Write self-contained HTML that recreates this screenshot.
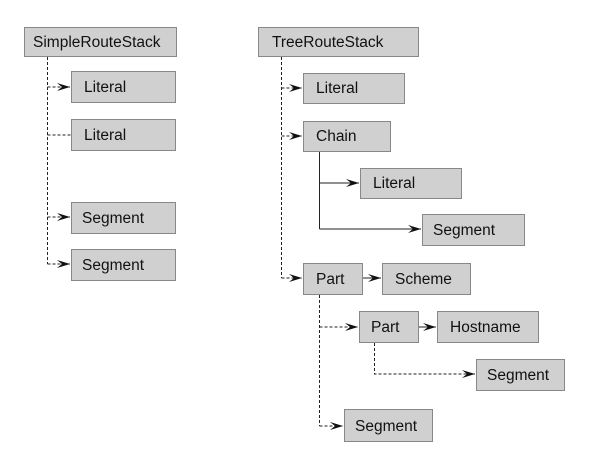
<!DOCTYPE html>
<html><head><style>
body{margin:0;background:#fff;}
svg text{font-family:"Liberation Sans",Arial,sans-serif;font-size:15.5px;fill:#111;}
</style></head><body>
<svg width="598" height="461" xmlns="http://www.w3.org/2000/svg">
<defs>
<marker id="a" markerWidth="14" markerHeight="10" refX="13" refY="5" orient="auto" markerUnits="userSpaceOnUse">
<path d="M0,1 L13,5 L0,9 L5,5 Z" fill="#111"/></marker>
</defs>
<g fill="#d0d0d0" stroke="#888" stroke-width="1">
<rect x="24.5" y="27.5" width="152" height="29"/>
<rect x="71.5" y="71.5" width="104" height="31"/>
<rect x="71.5" y="119.5" width="104" height="31"/>
<rect x="71.5" y="202.5" width="104" height="31"/>
<rect x="71.5" y="249.5" width="104" height="31"/>
<rect x="258.5" y="27.5" width="160" height="29"/>
<rect x="303.5" y="73.5" width="101" height="30"/>
<rect x="303.5" y="121.5" width="87" height="30"/>
<rect x="360.5" y="168.5" width="101" height="30"/>
<rect x="422.5" y="214.5" width="102" height="31"/>
<rect x="303.5" y="263.5" width="59" height="31"/>
<rect x="382.5" y="263.5" width="88" height="31"/>
<rect x="359.5" y="311.5" width="59" height="31"/>
<rect x="437.5" y="311.5" width="101" height="31"/>
<rect x="476.5" y="359.5" width="88" height="31"/>
<rect x="344.5" y="409.5" width="88" height="32"/>
</g>
<g fill="none" stroke="#222" stroke-width="1" stroke-dasharray="3,2">
<path d="M47.5,57 V264"/>
<path d="M47.5,87 H70" marker-end="url(#a)"/>
<path d="M47.5,135 H71"/>
<path d="M47.5,217 H70" marker-end="url(#a)"/>
<path d="M47.5,264 H70" marker-end="url(#a)"/>
<path d="M281.5,57 V278"/>
<path d="M281.5,88 H302" marker-end="url(#a)"/>
<path d="M281.5,136 H302" marker-end="url(#a)"/>
<path d="M281.5,278 H302" marker-end="url(#a)"/>
<path d="M319.5,295 V426"/>
<path d="M319.5,327 H358" marker-end="url(#a)"/>
<path d="M319.5,426 H343" marker-end="url(#a)"/>
<path d="M374.5,343 V374 H475" marker-end="url(#a)"/>
</g>
<g fill="none" stroke="#222" stroke-width="1">
<path d="M319.5,152 V229"/>
<path d="M319.5,183 H359" marker-end="url(#a)"/>
<path d="M319.5,229 H421" marker-end="url(#a)"/>
<path d="M363,278 H381" marker-end="url(#a)"/>
<path d="M419,327 H436" marker-end="url(#a)"/>
</g>
<text x="33" y="47">SimpleRouteStack</text>
<text x="84" y="92">Literal</text>
<text x="84" y="140">Literal</text>
<text x="82" y="223">Segment</text>
<text x="82" y="270">Segment</text>
<text x="272" y="47">TreeRouteStack</text>
<text x="316" y="93">Literal</text>
<text x="316" y="141">Chain</text>
<text x="373" y="188">Literal</text>
<text x="433" y="235">Segment</text>
<text x="316" y="284">Part</text>
<text x="395" y="284">Scheme</text>
<text x="371" y="332">Part</text>
<text x="450" y="332">Hostname</text>
<text x="487" y="380">Segment</text>
<text x="355" y="431">Segment</text>
</svg>
</body></html>
